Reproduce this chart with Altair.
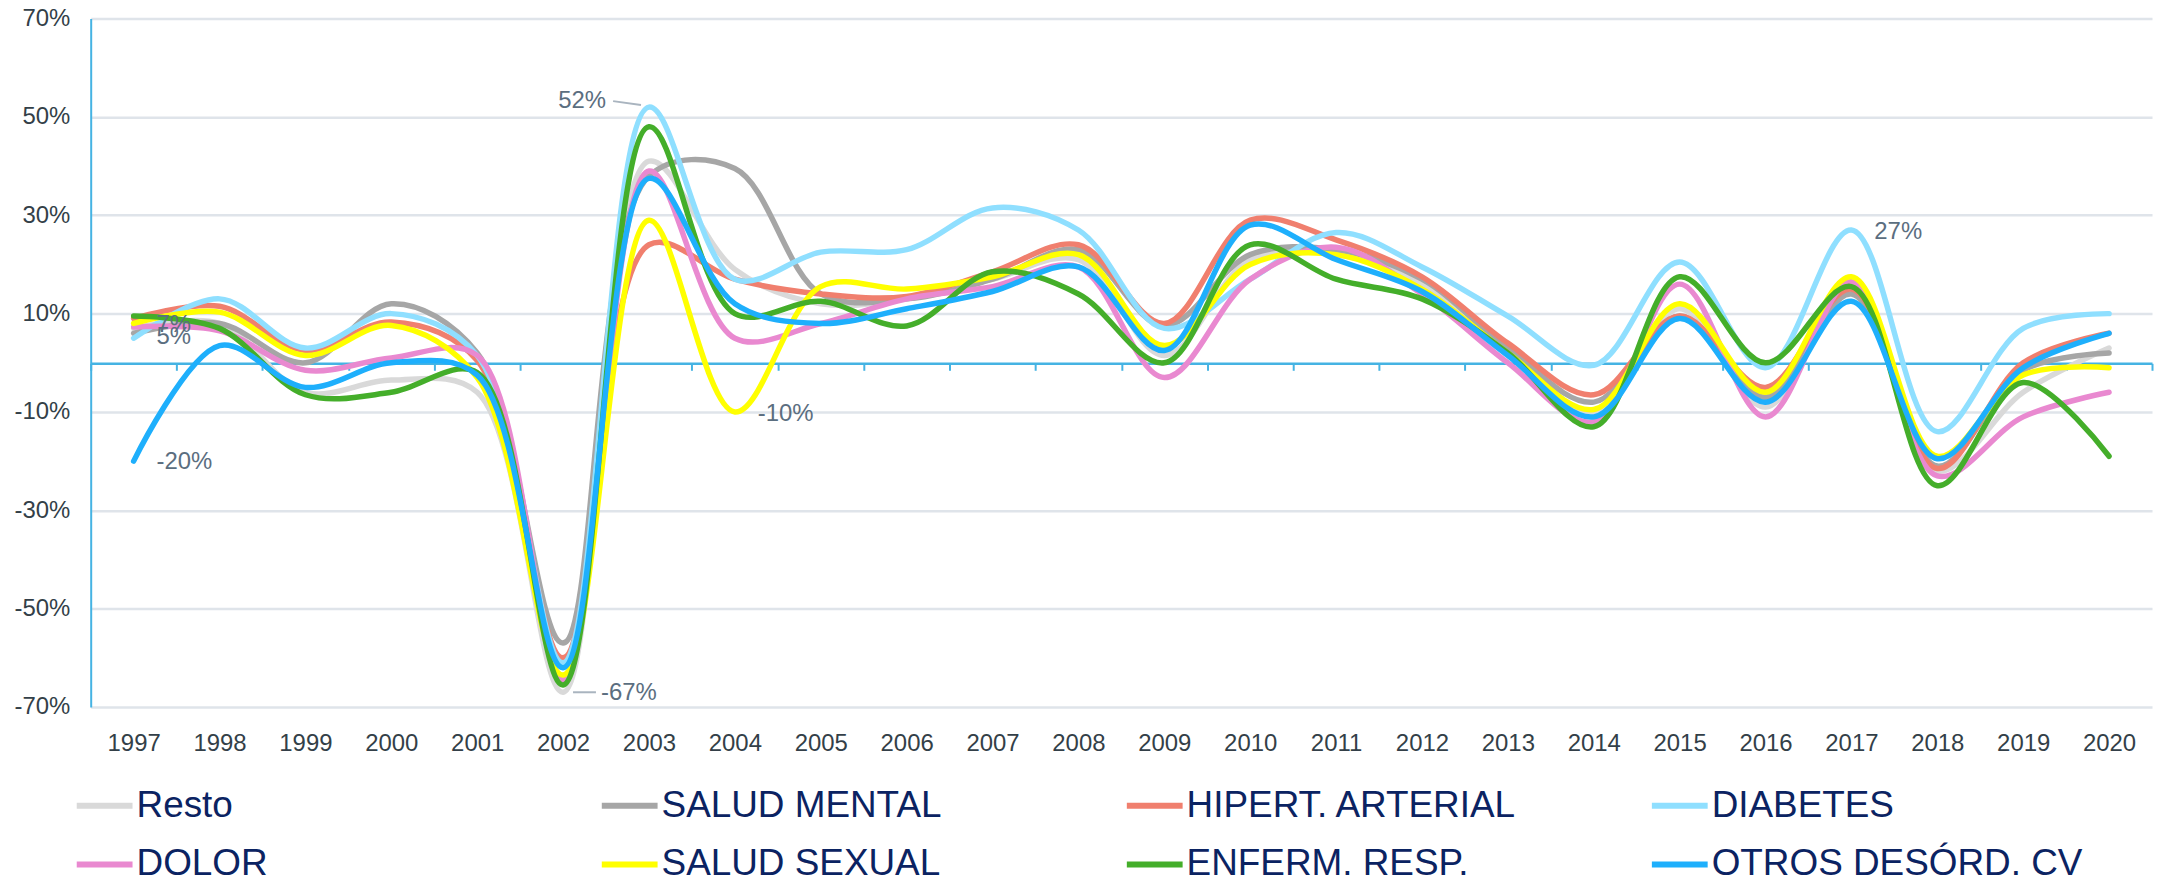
import altair as alt
import pandas as pd

years = [str(y) for y in range(1997, 2021)]

series_names = ["Resto", "SALUD MENTAL", "HIPERT. ARTERIAL", "DIABETES",
                "DOLOR", "SALUD SEXUAL", "ENFERM. RESP.", "OTROS DESÓRD. CV"]
series_colors = ["#d9d9d9", "#a6a6a6", "#f07f6e", "#8fdfff",
                 "#e989d0", "#ffff00", "#44ae2a", "#1eaffc"]

resto = [7, 8, -6, -3.5, -6, -67, 41, 19, 12, 13, 17, 21, 1.5, 21, 22, 16, 3, -10, 11, -9, 15, -22, -6, 3]
salud_mental = [6, 8, 0, 12, 2, -57, 38, 39.5, 14, 13, 17, 23, 7.5, 22, 23, 17, 3, -8, 9.5, -7, 14, -21, -1.5, 2]
hipert = [9, 11.5, 2.5, 8.3, 0.5, -60, 24, 17, 14, 13.5, 18.5, 24, 8, 29, 25, 17.5, 4, -6.5, 9.5, -5, 15, -21.5, 0, 6]
diabetes = [5, 13, 3, 10, 1.5, -61, 52, 17, 22.5, 23, 31.5, 27, 7, 17, 26.5, 19.5, 9.5, -0.5, 20.5, -1, 27, -14, 7, 10]
dolor = [7.3, 6.5, -1.5, 1, 1.5, -64.5, 39, 5, 8, 13, 15.5, 19.5, -3, 17, 23.5, 14, 0, -12, 16, -11, 16.5, -23, -11, -6]
salud_sexual = [8, 10.3, 1.5, 7.6, -3, -63.5, 29, -10, 15.5, 15, 17.5, 22, 3.5, 20, 22, 15, 2, -9.5, 12, -6, 17.5, -19, -2.5, -1]
enferm_resp = [9.5, 7, -6.5, -6, -2, -65.5, 48, 10, 12.5, 7.5, 18.5, 14, 0, 24, 17, 13, 2, -13, 17.5, 0, 15.5, -25, -4, -19]
otros_cv = [-20, 3.5, -5, 0, -2.5, -62, 37.5, 12, 8, 11, 14.5, 19.5, 2.5, 28, 21, 14.5, 1.5, -11, 9, -8, 12.5, -19.5, -1, 6]

all_values = [resto, salud_mental, hipert, diabetes, dolor, salud_sexual, enferm_resp, otros_cv]

rows = []
for name, vals in zip(series_names, all_values):
    for y, v in zip(years, vals):
        rows.append({"year": y, "series": name, "value": v})
df = pd.DataFrame(rows)

AXIS_BLUE = "#45b3e3"
TEXT_GRAY = "#333f48"
ANN_COLOR = "#5b6e80"
NAVY = "#0b2362"

x_enc = alt.X(
    "year:N",
    sort=years,
    scale=alt.Scale(type="band", paddingInner=0, paddingOuter=0),
    axis=alt.Axis(
        orient="bottom", offset=-345, title=None, labelAngle=0,
        labelFontSize=24, labelColor=TEXT_GRAY, labelPadding=363,
        domainColor=AXIS_BLUE, domainWidth=2.5,
        tickColor=AXIS_BLUE, tickWidth=2, tickSize=7, tickBand="extent",
        grid=False,
    ),
)
y_enc = alt.Y(
    "value:Q",
    scale=alt.Scale(domain=[-70, 70], nice=False, zero=False),
    axis=alt.Axis(
        values=[-70, -50, -30, -10, 10, 30, 50, 70],
        labelExpr="datum.value + '%'",
        title=None, ticks=False, labelFontSize=24, labelColor=TEXT_GRAY,
        labelPadding=21, domainColor=AXIS_BLUE, domainWidth=2,
        grid=True, gridColor="#dfe4ea", gridWidth=2.5,
    ),
)

lines = alt.Chart(df).mark_line(
    interpolate="catmull-rom", strokeWidth=5.5, strokeCap="round", strokeJoin="round"
).encode(
    x=x_enc,
    y=y_enc,
    color=alt.Color(
        "series:N",
        scale=alt.Scale(domain=series_names, range=series_colors),
        sort=series_names,
        legend=alt.Legend(
            orient="none", legendX=-17, legendY=759, columns=4, direction="horizontal",
            title=None, symbolType="stroke", symbolStrokeWidth=6, symbolSize=3136,
            labelFontSize=37, labelColor=NAVY, labelLimit=600, labelOffset=1,
            columnPadding=82, rowPadding=10, gridAlign="all", padding=0,
        ),
    ),
)

def ann(series, year, align, dx, dy):
    return alt.Chart(df).transform_filter(
        (alt.datum.series == series) & (alt.datum.year == year)
    ).transform_calculate(
        label="datum.value + '%'"
    ).mark_text(
        align=align, baseline="middle", dx=dx, dy=dy, fontSize=24, color=ANN_COLOR
    ).encode(x=alt.X("year:N", sort=years), y="value:Q", text="label:N")

annotations = [
    ann("OTROS DESÓRD. CV", "1997", "left", 23, 1),
    ann("DIABETES", "1997", "left", 23, -1),
    ann("Resto", "1997", "left", 23, -3),
    ann("DIABETES", "2003", "right", -43, -6),
    ann("Resto", "2002", "left", 38, 1),
    ann("SALUD SEXUAL", "2004", "left", 23, 2),
    ann("DIABETES", "2017", "left", 23, 2),
]

leader_67 = alt.Chart(df).transform_filter(
    (alt.datum.series == "Resto") & (alt.datum.year == "2002")
).mark_rule(color="#a9b4bf", strokeWidth=2, xOffset=10, x2Offset=33).encode(
    x=alt.X("year:N", sort=years), x2="year:N", y="value:Q"
)
leader_52 = alt.Chart(df).transform_filter(
    (alt.datum.series == "DIABETES") & (alt.datum.year == "2003")
).mark_rule(color="#a9b4bf", strokeWidth=2, xOffset=-36, x2Offset=-8, yOffset=-6, y2Offset=-2).encode(
    x=alt.X("year:N", sort=years), x2="year:N", y="value:Q", y2="value:Q"
)

chart = alt.layer(lines, leader_67, leader_52, *annotations).properties(
    width=2069, height=691,
    autosize=alt.AutoSizeParams(type="none"),
    padding={"left": 83, "top": 9, "right": 3, "bottom": 172},
).configure(
    font="Liberation Sans",
).configure_view(stroke=None)

chart.save("out.html", embed_options={"renderer": "svg", "actions": False})
